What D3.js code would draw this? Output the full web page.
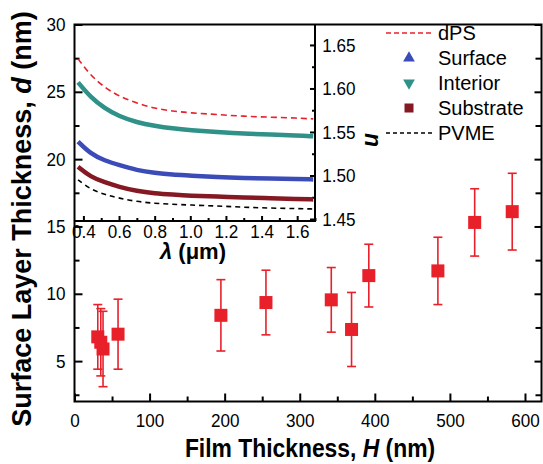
<!DOCTYPE html>
<html>
<head>
<meta charset="utf-8">
<script src="https://cdn.jsdelivr.net/npm/d3@7"></script>
<style>
  html, body { margin: 0; padding: 0; background: #fff; }
  svg { display: block; }
  text { font-family: "Liberation Sans", Arial, Helvetica, sans-serif; fill: #000; }
</style>
</head>
<body>
<svg id="chart" width="543" height="464"></svg>
<script>
// Main panel: surface layer thickness vs film thickness
const filmThickness = [31, 35, 38, 58, 195, 255, 342, 369, 392, 484, 533, 583];
const layerThickness = [6.8, 6.4, 5.9, 7.0, 8.4, 9.35, 9.55, 7.35, 11.35, 11.7, 15.3, 16.1];
const layerError = [2.4, 2.5, 2.8, 2.6, 2.65, 2.4, 2.4, 2.75, 2.33, 2.5, 2.5, 2.85];

const xMajorTicks = [0, 100, 200, 300, 400, 500, 600];
const xMinorTicks = [50, 150, 250, 350, 450, 550];
const yMajorTicks = [5, 10, 15, 20, 25, 30];
const yMinorTicks = [2.5, 7.5, 12.5, 17.5, 22.5, 27.5];

// Inset: refractive index dispersion
const wavelength = [0.37, 0.44, 0.52, 0.60, 0.70, 0.80, 0.90, 1.00, 1.15, 1.30, 1.45, 1.60, 1.69];
const nDPS       = [1.634, 1.615, 1.601, 1.591, 1.583, 1.577, 1.574, 1.572, 1.570, 1.568, 1.567, 1.566, 1.565];
const nInterior  = [1.607, 1.590, 1.577, 1.568, 1.561, 1.557, 1.554, 1.552, 1.550, 1.548, 1.547, 1.546, 1.545];
const nSurface   = [1.539, 1.525, 1.517, 1.512, 1.506, 1.503, 1.501, 1.500, 1.498, 1.497, 1.4965, 1.496, 1.4955];
const nSubstrate = [1.510, 1.4985, 1.492, 1.487, 1.482, 1.4795, 1.478, 1.4767, 1.4757, 1.4748, 1.474, 1.473, 1.4725];
const nPVME      = [1.495, 1.484, 1.478, 1.474, 1.470, 1.468, 1.467, 1.466, 1.465, 1.4635, 1.4625, 1.462, 1.4615];

const insetXMajor = [0.4, 0.6, 0.8, 1.0, 1.2, 1.4, 1.6];
const insetXMinor = [0.5, 0.7, 0.9, 1.1, 1.3, 1.5, 1.7];
const insetYMajor = [1.45, 1.50, 1.55, 1.60, 1.65];
const insetYMinor = [1.475, 1.525, 1.575, 1.625];

const legendLabels = ["dPS", "Surface", "Interior", "Substrate", "PVME"];

const RED = "#e8202a";
const TEAL = "#2f9188";
const BLUE = "#3b4bb8";
const MAROON = "#841823";

const svg = d3.select("#chart");

const x = d3.scaleLinear().domain([0, 622]).range([74.5, 541.5]);
const y = d3.scaleLinear().domain([2, 30]).range([401.5, 24.5]);

const lx = d3.scaleLinear().domain([0.35, 1.7]).range([74.5, 315]);
const ly = d3.scaleLinear().domain([1.4477, 1.6735]).range([221, 24.5]);

const TICK_FONT = 19;
const SQUEEZE = 0.9;

function styleAxis(g, opts = {}) {
  g.select(".domain").remove();
  g.selectAll(".tick line").attr("stroke", "#000").attr("stroke-width", opts.tw || 2);
  g.selectAll(".tick text")
    .attr("font-size", TICK_FONT)
    .attr("fill", "#000")
    .attr("font-family", "'Liberation Sans', Arial, sans-serif")
    .attr("transform", `scale(${SQUEEZE},1)`);
}

// ---------- main axes ----------
svg.append("g")
  .attr("transform", `translate(0,${y.range()[0]})`)
  .call(d3.axisBottom(x).tickValues(xMajorTicks).tickSize(-8).tickPadding(12).tickFormat(d3.format("d")))
  .call(styleAxis);
svg.append("g")
  .attr("transform", `translate(0,${y.range()[0]})`)
  .call(d3.axisBottom(x).tickValues(xMinorTicks).tickSize(-5).tickFormat(""))
  .call(styleAxis);

svg.append("g")
  .attr("transform", `translate(${x.range()[0]},0)`)
  .call(d3.axisLeft(y).tickValues(yMajorTicks).tickSize(-8).tickPadding(10).tickFormat(d3.format("d")))
  .call(styleAxis);
svg.append("g")
  .attr("transform", `translate(${x.range()[0]},0)`)
  .call(d3.axisLeft(y).tickValues(yMinorTicks).tickSize(-5).tickFormat(""))
  .call(styleAxis);

svg.append("g")
  .attr("transform", `translate(${x.range()[1]},0)`)
  .call(d3.axisRight(y).tickValues(yMajorTicks).tickSize(-7).tickFormat(""))
  .call(styleAxis);
svg.append("g")
  .attr("transform", `translate(${x.range()[1]},0)`)
  .call(d3.axisRight(y).tickValues(yMinorTicks).tickSize(-6).tickFormat(""))
  .call(styleAxis);

// frame
svg.append("rect")
  .attr("x", x.range()[0]).attr("y", y.range()[1])
  .attr("width", x.range()[1] - x.range()[0])
  .attr("height", y.range()[0] - y.range()[1])
  .attr("fill", "none").attr("stroke", "#000").attr("stroke-width", 2);

// ---------- main data ----------
const pts = d3.range(filmThickness.length).map(i => ({
  h: filmThickness[i], d: layerThickness[i], e: layerError[i]
}));

const bars = svg.append("g").attr("stroke", RED).attr("stroke-width", 1.6);
pts.forEach(p => {
  const cx = x(p.h);
  bars.append("line").attr("x1", cx).attr("x2", cx).attr("y1", y(p.d + p.e)).attr("y2", y(p.d - p.e));
  bars.append("line").attr("x1", cx - 4.5).attr("x2", cx + 4.5).attr("y1", y(p.d + p.e)).attr("y2", y(p.d + p.e));
  bars.append("line").attr("x1", cx - 4.5).attr("x2", cx + 4.5).attr("y1", y(p.d - p.e)).attr("y2", y(p.d - p.e));
});
svg.append("g").selectAll("rect").data(pts).join("rect")
  .attr("x", p => x(p.h) - 6.5).attr("y", p => y(p.d) - 6.5)
  .attr("width", 13).attr("height", 13)
  .attr("fill", RED);

// ---------- main axis titles ----------
const yTitle = svg.append("text")
  .attr("transform", "translate(31,219) rotate(-90)")
  .attr("text-anchor", "middle")
  .attr("font-size", 27).attr("font-weight", "bold");
yTitle.append("tspan").text("Surface Layer Thickness, ");
yTitle.append("tspan").attr("font-style", "italic").text("d");
yTitle.append("tspan").text(" (nm)");

const xTitle = svg.append("text")
  .attr("transform", "translate(310,457) scale(0.88,1)")
  .attr("text-anchor", "middle")
  .attr("font-size", 26).attr("font-weight", "bold");
xTitle.append("tspan").text("Film Thickness, ");
xTitle.append("tspan").attr("font-style", "italic").text("H");
xTitle.append("tspan").text(" (nm)");

// ---------- inset ----------
const inset = svg.append("g");

inset.append("g")
  .attr("transform", `translate(0,${ly.range()[0]})`)
  .call(d3.axisBottom(lx).tickValues(insetXMajor).tickSize(-5).tickPadding(4).tickFormat(d3.format(".1f")))
  .call(styleAxis);
inset.append("g")
  .attr("transform", `translate(0,${ly.range()[0]})`)
  .call(d3.axisBottom(lx).tickValues(insetXMinor).tickSize(-3).tickFormat(""))
  .call(styleAxis);

inset.append("g")
  .attr("transform", `translate(${lx.range()[1]},0)`)
  .call(d3.axisRight(ly).tickValues(insetYMajor).tickSize(-5).tickPadding(8).tickFormat(d3.format(".2f")))
  .call(styleAxis);
inset.append("g")
  .attr("transform", `translate(${lx.range()[1]},0)`)
  .call(d3.axisRight(ly).tickValues(insetYMinor).tickSize(-3).tickFormat(""))
  .call(styleAxis);

inset.append("line")
  .attr("x1", lx.range()[0]).attr("x2", lx.range()[1] + 1)
  .attr("y1", ly.range()[0]).attr("y2", ly.range()[0])
  .attr("stroke", "#000").attr("stroke-width", 2);
inset.append("line")
  .attr("x1", lx.range()[1]).attr("x2", lx.range()[1])
  .attr("y1", ly.range()[1]).attr("y2", ly.range()[0])
  .attr("stroke", "#000").attr("stroke-width", 2);

const series = [
  { n: nDPS, color: RED, width: 1.6, dash: "6,4" },
  { n: nInterior, color: TEAL, width: 4.5, dash: null },
  { n: nSurface, color: BLUE, width: 4.5, dash: null },
  { n: nSubstrate, color: MAROON, width: 4.5, dash: null },
  { n: nPVME, color: "#000", width: 1.6, dash: "5,4" }
];

const curve = d3.line()
  .x((d, i) => lx(wavelength[i]))
  .y(d => ly(d))
  .curve(d3.curveBasis);

series.forEach(s => {
  inset.append("path")
    .attr("d", curve(s.n))
    .attr("fill", "none")
    .attr("stroke", s.color)
    .attr("stroke-width", s.width)
    .attr("stroke-dasharray", s.dash);
});

const lTitle = inset.append("text")
  .attr("x", 193).attr("y", 259)
  .attr("text-anchor", "middle")
  .attr("font-size", 22).attr("font-weight", "bold");
lTitle.append("tspan").attr("font-style", "italic").text("λ");
lTitle.append("tspan").text(" (μm)");

inset.append("text")
  .attr("transform", "translate(365,140) rotate(90)")
  .attr("text-anchor", "middle")
  .attr("font-size", 23).attr("font-weight", "bold").attr("font-style", "italic")
  .text("n");

// ---------- legend ----------
const legend = svg.append("g");
const legendRowY = d3.scalePoint().domain(legendLabels).range([33, 133]);
const symX = 409;

legend.selectAll("text").data(legendLabels).join("text")
  .attr("x", 438).attr("y", d => legendRowY(d) + 7)
  .attr("font-size", 20)
  .text(d => d);

legend.append("line")
  .attr("x1", 386).attr("x2", 433)
  .attr("y1", legendRowY("dPS")).attr("y2", legendRowY("dPS"))
  .attr("stroke", RED).attr("stroke-width", 1.6).attr("stroke-dasharray", "5,3");
legend.append("line")
  .attr("x1", 386).attr("x2", 433)
  .attr("y1", legendRowY("PVME")).attr("y2", legendRowY("PVME"))
  .attr("stroke", "#000").attr("stroke-width", 1.6).attr("stroke-dasharray", "4,3");

legend.append("path")
  .attr("transform", `translate(${symX},${legendRowY("Surface")})`)
  .attr("d", d3.symbol(d3.symbolTriangle, 60)())
  .attr("fill", BLUE);
legend.append("path")
  .attr("transform", `translate(${symX},${legendRowY("Interior")}) rotate(180)`)
  .attr("d", d3.symbol(d3.symbolTriangle, 60)())
  .attr("fill", TEAL);
legend.append("rect")
  .attr("x", symX - 4.5).attr("y", legendRowY("Substrate") - 4.5)
  .attr("width", 9).attr("height", 9)
  .attr("fill", MAROON);
</script>
</body>
</html>
